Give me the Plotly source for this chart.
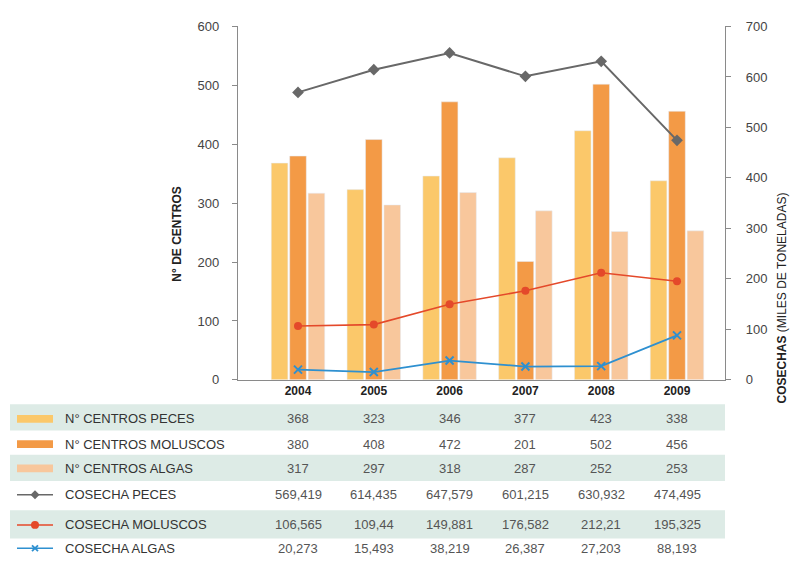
import plotly.graph_objects as go

W, H = 796, 567

years = ["2004", "2005", "2006", "2007", "2008", "2009"]
centros_peces = [368, 323, 346, 377, 423, 338]
centros_moluscos = [380, 408, 472, 201, 502, 456]
centros_algas = [317, 297, 318, 287, 252, 253]
cosecha_peces = [569.419, 614.435, 647.579, 601.215, 630.932, 474.495]
cosecha_moluscos = [106.565, 109.44, 149.881, 176.582, 212.21, 195.325]
cosecha_algas = [20.273, 15.493, 38.219, 26.387, 27.203, 88.193]

left_ticks = [0, 100, 200, 300, 400, 500, 600]
right_ticks = [0, 100, 200, 300, 400, 500, 600, 700]

C_PEC = "#FBC86A"
C_MOL = "#F39A46"
C_ALG = "#F8C79C"
L_PEC = "#686868"
L_MOL = "#E4492A"
L_ALG = "#2E90D0"
BAND = "#DDEBE6"
FONT = "Liberation Sans, Arial, sans-serif"


def fx(p):
    return p / W


def fy(p):
    return 1 - p / H


fig = go.Figure()
fig.add_trace(go.Bar(x=years, y=centros_peces, name="N° CENTROS PECES", marker_color=C_PEC))
fig.add_trace(go.Bar(x=years, y=centros_moluscos, name="N° CENTROS MOLUSCOS", marker_color=C_MOL))
fig.add_trace(go.Bar(x=years, y=centros_algas, name="N° CENTROS ALGAS", marker_color=C_ALG))
fig.add_trace(go.Scatter(x=years, y=cosecha_peces, yaxis="y2", mode="lines+markers",
                         line=dict(color=L_PEC, width=2),
                         marker=dict(symbol="diamond", size=9, color=L_PEC),
                         name="COSECHA PECES"))
fig.add_trace(go.Scatter(x=years, y=cosecha_moluscos, yaxis="y2", mode="lines+markers",
                         line=dict(color=L_MOL, width=1.6),
                         marker=dict(symbol="circle", size=8, color=L_MOL),
                         name="COSECHA MOLUSCOS"))
fig.add_trace(go.Scatter(x=years, y=cosecha_algas, yaxis="y2", mode="lines+markers",
                         line=dict(color=L_ALG, width=1.8),
                         marker=dict(symbol="x-thin", size=8, color=L_ALG,
                                     line=dict(color=L_ALG, width=2)),
                         name="COSECHA ALGAS"))

x_left, x_right, y_top, y_bot = 238, 725, 20, 383
spacing = 75.8
r0 = -(298 - x_left) / spacing
r1 = r0 + (x_right - x_left) / spacing

shapes = []
annotations = []

# table bands
for (a, b) in [(408, 435), (460, 487), (517, 546)]:
    shapes.append(dict(type="rect", xref="paper", yref="paper", x0=fx(10), x1=fx(725),
                       y0=fy(b), y1=fy(a), fillcolor=BAND, line=dict(width=0), layer="below"))

row_y = [423, 449, 474, 501, 532, 556]
labels = ["N° CENTROS PECES", "N° CENTROS MOLUSCOS", "N° CENTROS ALGAS",
          "COSECHA PECES", "COSECHA MOLUSCOS", "COSECHA ALGAS"]
series = [centros_peces, centros_moluscos, centros_algas,
          cosecha_peces, cosecha_moluscos, cosecha_algas]


def fmt(v):
    if isinstance(v, int):
        return str(v)
    return ("%g" % v).replace(".", ",")


for lab, vals, yy in zip(labels, series, row_y):
    annotations.append(dict(x=fx(63), y=fy(yy), xref="paper", yref="paper", text=lab,
                            showarrow=False, xanchor="left", yanchor="middle",
                            font=dict(family=FONT, size=13, color="#333333")))
    for idx, v in enumerate(vals):
        # category axis: annotation x given as category index
        annotations.append(dict(x=idx, y=fy(yy), xref="x", yref="paper", text=fmt(v),
                                showarrow=False, xanchor="center", yanchor="middle",
                                font=dict(family=FONT, size=13, color="#555555")))

# legend glyphs: bars
for col, yy in zip([C_PEC, C_MOL, C_ALG], row_y[:3]):
    shapes.append(dict(type="rect", xref="paper", yref="paper", x0=fx(17), x1=fx(53),
                       y0=fy(yy + 4), y1=fy(yy - 4), fillcolor=col, line=dict(width=0)))
# legend glyphs: lines
for col, yy in zip([L_PEC, L_MOL, L_ALG], row_y[3:]):
    shapes.append(dict(type="line", xref="paper", yref="paper", x0=fx(17), x1=fx(53),
                       y0=fy(yy), y1=fy(yy), line=dict(color=col, width=1.5)))
yy = row_y[3]
shapes.append(dict(type="path", xref="paper", yref="paper",
                   path="M %f %f L %f %f L %f %f L %f %f Z" % (fx(35), fy(yy - 4.5), fx(39.5), fy(yy),
                                                                fx(35), fy(yy + 4.5), fx(30.5), fy(yy)),
                   fillcolor=L_PEC, line=dict(width=0)))
yy = row_y[4]
shapes.append(dict(type="circle", xref="paper", yref="paper", x0=fx(31), x1=fx(39),
                   y0=fy(yy + 4), y1=fy(yy - 4), fillcolor=L_MOL, line=dict(width=0)))
yy = row_y[5]
for d in (1, -1):
    shapes.append(dict(type="line", xref="paper", yref="paper", x0=fx(32), x1=fx(38),
                       y0=fy(yy - 3 * d), y1=fy(yy + 3 * d), line=dict(color=L_ALG, width=1.8)))

# axis titles
annotations.append(dict(x=fx(168), y=fy(183), xref="paper", yref="paper",
                        text="<b>N° DE CENTROS</b>", textangle=-90, showarrow=False,
                        font=dict(family=FONT, size=12, color="#222222")))
annotations.append(dict(x=fx(790), y=fy(189), xref="paper", yref="paper",
                        text="<b>COSECHAS</b> (MILES DE TONELADAS)", textangle=-90, showarrow=False,
                        font=dict(family=FONT, size=12, color="#222222")))

axis_col = "#8a8a8a"
fig.update_layout(
    width=W, height=H,
    margin=dict(l=0, r=0, t=0, b=0),
    paper_bgcolor="white", plot_bgcolor="white",
    showlegend=False,
    barmode="group", bargap=0.27, bargroupgap=0.1,
    font=dict(family=FONT, size=12, color="#444444"),
    xaxis=dict(domain=[fx(x_left), fx(x_right)], type="category", range=[r0, r1],
               showline=True, linecolor=axis_col, linewidth=1.2, ticks="",
               tickvals=years, ticktext=["<b>%s</b>" % y for y in years],
               tickfont=dict(family=FONT, size=12, color="#222222"),
               showgrid=False, zeroline=False, fixedrange=True),
    yaxis=dict(domain=[fy(y_bot), fy(y_top)], range=[0, 600], tickvals=left_ticks,
               showline=True, linecolor=axis_col, linewidth=1.2, ticks="outside", ticklen=5,
               tickcolor=axis_col, showgrid=False, zeroline=False, ticklabelstandoff=10,
               tickfont=dict(family=FONT, size=13, color="#444444")),
    yaxis2=dict(overlaying="y", side="right", range=[0, 700], tickvals=right_ticks,
                showline=True, linecolor=axis_col, linewidth=1.2, ticks="outside", ticklen=5,
                tickcolor=axis_col, showgrid=False, zeroline=False, ticklabelstandoff=12,
                tickfont=dict(family=FONT, size=13, color="#444444")),
    shapes=shapes,
    annotations=annotations,
)

fig.write_html("out.html")
